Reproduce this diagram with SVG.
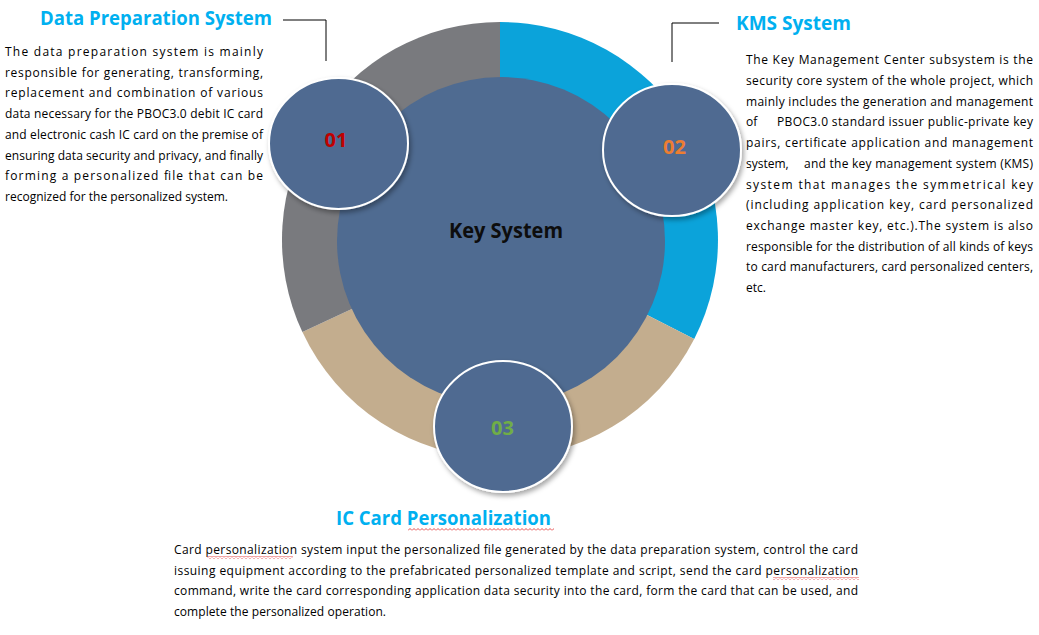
<svg xmlns="http://www.w3.org/2000/svg" width="1039" height="635" viewBox="0 0 1039 635">
<style>
.t{font-family:"Open Sans","Liberation Sans",sans-serif;font-weight:bold;font-size:20px;fill:#00B0F0}
.b{font-family:"Open Sans","Liberation Sans",sans-serif;font-size:12px;fill:#000000}
.n{font-family:"Open Sans","Liberation Sans",sans-serif;font-weight:bold;font-size:20px;text-anchor:middle}
.sc{fill:#4F6B91;stroke:#ffffff;stroke-width:2;filter:url(#sh)}
.ln{fill:none;stroke:#000;stroke-width:1}
</style>
<defs>
<filter id="sh" x="-20%" y="-20%" width="145%" height="145%">
<feDropShadow dx="2" dy="3" stdDeviation="2.5" flood-color="#000" flood-opacity="0.35"/>
</filter>
<pattern id="wavy" width="4" height="3" patternUnits="userSpaceOnUse">
<path d="M0,2.5 L2,0.5 L4,2.5" fill="none" stroke="#E02020" stroke-width="0.8"/>
</pattern>
</defs>
<rect width="1039" height="635" fill="#ffffff"/>

<g id="ring">
<path d="M500,240 L500,22 A218,218 0 0 1 694.2,339 Z" fill="#0BA3DA"/>
<path d="M500,240 L694.2,339 A218,218 0 0 1 302.4,332.1 Z" fill="#C3AD8E"/>
<path d="M500,240 L302.4,332.1 A218,218 0 0 1 500,22 Z" fill="#797A7E"/>
</g>

<g id="key-system">
<circle cx="501" cy="241" r="164" fill="#4F6B91"/>
<text x="449" y="238" class="n" style="text-anchor:start;fill:#0d0d0d;font-size:21px" textLength="114" lengthAdjust="spacingAndGlyphs">Key System</text>
</g>

<g id="connectors">
<polyline class="ln" points="283,20 326,20 326,61"/>
<polyline class="ln" points="719,23 672,23 672,62"/>
</g>

<g id="node-01">
<ellipse class="sc" cx="338.5" cy="143.5" rx="69.5" ry="65.5"/>
<text x="336" y="147" class="n" fill="#C00000">01</text>
</g>
<g id="node-02">
<ellipse class="sc" cx="672" cy="150" rx="69" ry="66"/>
<text x="674.5" y="154" class="n" fill="#ED7D31">02</text>
</g>
<g id="node-03">
<ellipse class="sc" cx="503" cy="426.5" rx="69" ry="65.5"/>
<text x="502.5" y="435" class="n" fill="#70AD47">03</text>
</g>

<g id="data-preparation">
<text x="40" y="25" class="t" textLength="232" lengthAdjust="spacingAndGlyphs">Data Preparation System</text>
<text class="b" x="5" y="56" textLength="258" lengthAdjust="spacing">The data preparation system is mainly</text>
<text class="b" x="5" y="76.7" textLength="258" lengthAdjust="spacing">responsible for generating, transforming,</text>
<text class="b" x="5" y="97.4" textLength="258" lengthAdjust="spacing">replacement and combination of various</text>
<text class="b" x="5" y="118.1" textLength="258" lengthAdjust="spacing">data necessary for the PBOC3.0 debit IC card</text>
<text class="b" x="5" y="138.8" textLength="258" lengthAdjust="spacing">and electronic cash IC card on the premise of</text>
<text class="b" x="5" y="159.5" textLength="258" lengthAdjust="spacing">ensuring data security and privacy, and finally</text>
<text class="b" x="5" y="180.2" textLength="258" lengthAdjust="spacing">forming a personalized file that can be</text>
<text class="b" x="5" y="200.9" textLength="223" lengthAdjust="spacing">recognized for the personalized system.</text>
</g>

<g id="kms">
<text x="736" y="30" class="t" textLength="115" lengthAdjust="spacingAndGlyphs">KMS System</text>
<text class="b" x="746" y="64.3" textLength="287" lengthAdjust="spacing">The Key Management Center subsystem is the</text>
<text class="b" x="746" y="85" textLength="287" lengthAdjust="spacing">security core system of the whole project, which</text>
<text class="b" x="746" y="105.7" textLength="287" lengthAdjust="spacing">mainly includes the generation and management</text>
<text class="b" y="126.4"><tspan x="746">of</tspan><tspan x="777" textLength="256" lengthAdjust="spacing">PBOC3.0 standard issuer public-private key</tspan></text>
<text class="b" x="746" y="147.1" textLength="287" lengthAdjust="spacing">pairs, certificate application and management</text>
<text class="b" y="167.8"><tspan x="746">system,</tspan><tspan x="804" textLength="229" lengthAdjust="spacing">and the key management system (KMS)</tspan></text>
<text class="b" x="746" y="188.5" textLength="287" lengthAdjust="spacing">system that manages the symmetrical key</text>
<text class="b" x="746" y="209.2" textLength="287" lengthAdjust="spacing">(including application key, card personalized</text>
<text class="b" x="746" y="229.9" textLength="287" lengthAdjust="spacing">exchange master key, etc.).The system is also</text>
<text class="b" x="746" y="250.6" textLength="287" lengthAdjust="spacing">responsible for the distribution of all kinds of keys</text>
<text class="b" x="746" y="271.3" textLength="287" lengthAdjust="spacing">to card manufacturers, card personalized centers,</text>
<text class="b" x="746" y="292">etc.</text>
</g>

<g id="ic-card">
<text x="336" y="525" class="t" textLength="215" lengthAdjust="spacingAndGlyphs">IC Card Personalization</text>
<rect x="408" y="528" width="146" height="3" fill="url(#wavy)"/>
<text class="b" x="174" y="554" textLength="684" lengthAdjust="spacing">Card personalization system input the personalized file generated by the data preparation system, control the card</text>
<text class="b" x="174" y="574.7" textLength="684" lengthAdjust="spacing">issuing equipment according to the prefabricated personalized template and script, send the card personalization</text>
<text class="b" x="174" y="595.4" textLength="684" lengthAdjust="spacing">command, write the card corresponding application data security into the card, form the card that can be used, and</text>
<text class="b" x="174" y="616.1" textLength="212" lengthAdjust="spacing">complete the personalized operation.</text>
<rect x="207" y="556" width="86" height="3" fill="url(#wavy)"/>
<rect x="773" y="577" width="86" height="3" fill="url(#wavy)"/>
</g>
</svg>
